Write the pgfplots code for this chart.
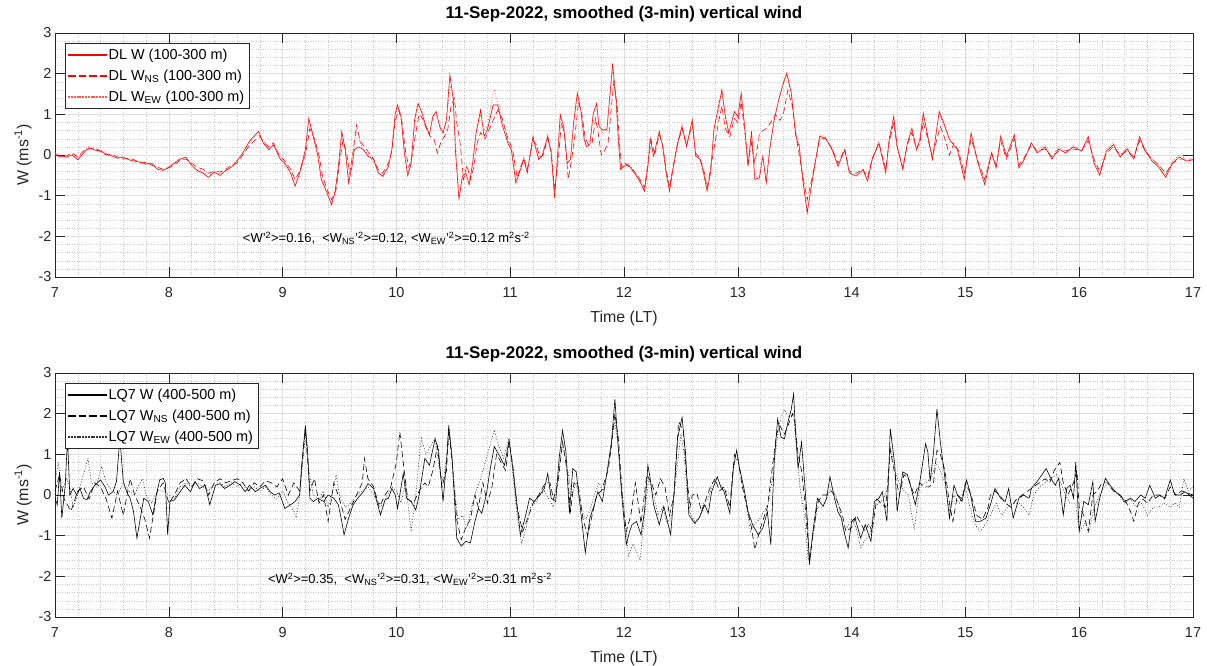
\documentclass[border=0pt]{standalone}
\usepackage{fontspec}
\setmainfont{Liberation Sans}
\usepackage{pgfplots}
\pgfplotsset{compat=1.18}
\definecolor{axgray}{HTML}{262626}
\definecolor{gridmaj}{HTML}{DEDEDE}
\definecolor{gridmin}{HTML}{CACACA}
\definecolor{wred}{rgb}{1,0,0}
\definecolor{wpink}{rgb}{1,0.35,0.35}
\definecolor{wblack}{rgb}{0,0,0}
\definecolor{wdgray}{rgb}{0.2,0.2,0.2}

\tikzset{
  wsol/.style={line width=0.6pt},
  wdash/.style={line width=0.6pt, dash pattern=on 6bp off 3.5bp},
  wdot/.style={line width=0.6pt, dash pattern=on 1bp off 1.8bp},
}
% legend samples drawn as plain shapes (a dash pattern loses its colour inside the legend)
\newcommand{\legsol}[1]{\fill[#1] (0bp,-0.35bp) rectangle (38bp,0.35bp);}
\newcommand{\legdash}[1]{\fill[#1] (0bp,-0.35bp) rectangle (6.5bp,0.35bp) (10.5bp,-0.35bp) rectangle (17bp,0.35bp) (21bp,-0.35bp) rectangle (27.5bp,0.35bp) (31.5bp,-0.35bp) rectangle (38bp,0.35bp);}
\newcommand{\legdot}[1]{\foreach \x in {0,2.8,...,37.5} {\fill[#1] (\x bp,-0.35bp) rectangle ++(1bp,0.7bp);}}

\pgfplotsset{
  windax/.style={
    scale only axis, width=1138bp, height=244bp,
    xmin=7, xmax=17, ymin=-3, ymax=3,
    xtick={7,8,...,17}, ytick={-3,-2,...,3},
    xticklabels={7,8,9,10,11,12,13,14,15,16,17},
    yticklabels={-3,-2,-1,0,1,2,3},
    minor x tick num=4, minor y tick num=4,
    grid=both,
    major grid style={color=gridmaj, line width=0.5pt},
    minor grid style={color=gridmin, dotted, line width=0.45pt},
    tick align=inside, major tick length=10bp, minor tick length=0pt,
    axis line style={color=axgray, line width=0.6pt},
    every tick/.append style={color=axgray, line width=0.6pt},
    tick label style={font=\fontsize{14.5}{16}\selectfont, color=axgray},
    xticklabel style={yshift=-7bp},
    xlabel={Time (LT)}, ylabel={W (ms\textsuperscript{-1})},
    label style={font=\fontsize{16}{18}\selectfont, color=axgray},
    xlabel style={yshift=-6bp},
    title style={font=\bfseries\fontsize{17}{19}\selectfont, color=black, yshift=1bp},
    title={11-Sep-2022, smoothed (3-min) vertical wind},
    legend cell align=left,
    legend style={at={(0.0088,0.959)}, anchor=north west,
      font=\fontsize{14.5}{16}\selectfont, draw=axgray, fill=white, text=black,
      inner xsep=3bp, inner ysep=3.5bp, row sep=5bp},
  },
}

\begin{document}
\begin{tikzpicture}

% ---------------- top panel: DL 100-300 m ----------------
\begin{axis}[windax, at={(0,340bp)}, anchor=south west]
\addlegendimage{legend image code/.code={\legsol{wred}}}
\addlegendentry{DL W (100-300 m)}
\addlegendimage{legend image code/.code={\legdash{wred}}}
\addlegendentry{DL W\textsubscript{NS} (100-300 m)}
\addlegendimage{legend image code/.code={\legdot{wpink}}}
\addlegendentry{DL W\textsubscript{EW} (100-300 m)}
\addplot[wsol, color=wred, forget plot] coordinates {
(7.00,0.02)(7.05,-0.03)(7.10,-0.05)(7.15,0.0)(7.20,-0.12)(7.25,0.05)(7.30,0.18)(7.35,0.12)(7.40,0.1)(7.45,0.02)
(7.50,-0.02)(7.55,-0.08)(7.60,-0.05)(7.65,-0.12)(7.70,-0.15)(7.75,-0.18)(7.80,-0.22)(7.85,-0.2)(7.90,-0.35)(7.95,-0.38)
(8.00,-0.3)(8.05,-0.2)(8.10,-0.1)(8.15,-0.05)(8.20,-0.25)(8.25,-0.38)(8.30,-0.45)(8.35,-0.55)(8.40,-0.42)(8.45,-0.5)
(8.50,-0.38)(8.55,-0.3)(8.60,-0.15)(8.65,0.05)(8.70,0.3)(8.72,0.38)(8.79,0.58)(8.83,0.29)(8.88,0.13)(8.92,0.25)
(8.98,-0.11)(9.02,-0.2)(9.07,-0.44)(9.11,-0.77)(9.15,-0.44)(9.20,0.13)(9.23,0.9)(9.27,0.46)(9.31,-0.03)(9.34,-0.6)
(9.39,-0.93)(9.43,-1.22)(9.46,-0.93)(9.49,-0.28)(9.52,0.58)(9.55,0.13)(9.58,-0.69)(9.61,-0.28)(9.63,0.13)(9.67,0.2)
(9.71,0.13)(9.75,-0.03)(9.80,-0.11)(9.84,-0.44)(9.88,-0.52)(9.93,-0.28)(9.96,0.13)(9.99,1.03)(10.01,1.23)(10.04,0.95)
(10.07,0.05)(10.10,-0.51)(10.13,-0.2)(10.16,0.87)(10.19,1.27)(10.22,1.07)(10.26,0.7)(10.29,0.5)(10.32,0.95)(10.35,1.07)
(10.38,0.7)(10.41,0.54)(10.44,0.87)(10.47,1.97)(10.50,1.36)(10.52,0.05)(10.55,-1.09)(10.58,-0.52)(10.61,-0.44)(10.64,-0.73)
(10.67,-0.2)(10.70,0.54)(10.74,1.11)(10.77,0.46)(10.80,0.62)(10.85,1.23)(10.89,1.23)(10.93,0.74)(10.98,0.29)(11.01,0.13)
(11.05,-0.69)(11.09,-0.36)(11.12,-0.11)(11.15,-0.44)(11.20,0.46)(11.22,0.21)(11.25,-0.11)(11.28,-0.03)(11.33,0.46)(11.36,0.05)
(11.39,-1.05)(11.41,-0.28)(11.44,0.99)(11.47,0.7)(11.50,-0.2)(11.53,-0.11)(11.56,0.87)(11.59,1.52)(11.62,1.11)(11.65,0.38)
(11.67,0.21)(11.70,0.25)(11.73,1.03)(11.76,1.27)(11.78,0.7)(11.81,0.62)(11.85,0.62)(11.88,1.6)(11.90,2.25)(11.93,1.36)
(11.95,0.38)(11.97,-0.36)(12.00,-0.28)(12.04,-0.24)(12.09,-0.44)(12.13,-0.6)(12.18,-0.89)(12.21,-0.28)(12.23,0.42)(12.26,-0.03)
(12.31,0.58)(12.34,0.21)(12.37,-0.44)(12.40,-0.89)(12.43,-0.36)(12.47,0.29)(12.51,0.7)(12.55,0.21)(12.60,0.87)(12.63,-0.03)
(12.67,-0.11)(12.70,-0.44)(12.73,-0.89)(12.76,-0.44)(12.79,0.62)(12.83,1.19)(12.86,1.6)(12.89,0.95)(12.92,0.54)(12.97,1.07)
(13.00,0.95)(13.03,1.52)(13.06,0.7)(13.09,-0.28)(13.12,0.58)(13.15,-0.6)(13.19,-0.56)(13.22,-0.03)(13.25,-0.69)(13.28,0.13)
(13.32,0.87)(13.36,1.36)(13.40,1.76)(13.43,2.0)(13.47,1.52)(13.51,0.46)(13.54,0.21)(13.57,-0.6)(13.61,-1.42)(13.65,-0.69)
(13.72,0.46)(13.77,0.42)(13.83,0.13)(13.88,-0.28)(13.94,0.13)(13.98,-0.44)(14.04,-0.52)(14.10,-0.36)(14.14,-0.64)(14.18,-0.11)
(14.24,0.29)(14.30,-0.44)(14.33,0.38)(14.37,0.95)(14.40,0.21)(14.45,-0.36)(14.49,0.29)(14.53,0.66)(14.57,0.13)(14.60,0.38)
(14.63,1.03)(14.67,0.46)(14.71,-0.11)(14.77,1.07)(14.81,0.79)(14.86,0.38)(14.93,0.13)(14.99,-0.6)(15.05,0.54)(15.11,-0.2)
(15.17,-0.73)(15.23,0.05)(15.27,-0.32)(15.31,0.46)(15.36,-0.03)(15.43,0.5)(15.47,-0.32)(15.52,-0.1)(15.58,0.3)(15.63,0.05)
(15.70,0.2)(15.76,-0.1)(15.82,0.15)(15.88,0.05)(15.95,0.2)(16.02,0.1)(16.08,0.45)(16.13,-0.2)(16.18,-0.5)(16.24,0.1)
(16.30,0.25)(16.36,-0.05)(16.42,0.15)(16.48,-0.1)(16.53,0.45)(16.58,0.1)(16.64,-0.15)(16.70,-0.3)(16.76,-0.55)(16.82,-0.2)
(16.88,-0.05)(16.94,-0.15)(17.00,-0.12)
};
\addplot[wdash, color=wred, forget plot] coordinates {
(7.00,0.0)(7.05,-0.05)(7.10,-0.02)(7.15,0.05)(7.20,-0.05)(7.25,0.1)(7.30,0.15)(7.35,0.18)(7.40,0.08)(7.45,0.0)
(7.50,0.02)(7.55,-0.05)(7.60,-0.1)(7.65,-0.08)(7.70,-0.12)(7.75,-0.2)(7.80,-0.18)(7.85,-0.25)(7.90,-0.3)(7.95,-0.35)
(8.00,-0.32)(8.05,-0.25)(8.10,-0.12)(8.15,-0.1)(8.20,-0.2)(8.25,-0.3)(8.30,-0.35)(8.35,-0.45)(8.40,-0.4)(8.45,-0.42)
(8.50,-0.35)(8.55,-0.25)(8.60,-0.2)(8.65,0.0)(8.70,0.2)(8.75,0.35)(8.80,0.45)(8.84,0.3)(8.88,0.2)(8.92,0.3)
(8.97,0.0)(9.02,-0.15)(9.07,-0.35)(9.11,-0.6)(9.15,-0.4)(9.20,0.0)(9.24,0.65)(9.28,0.4)(9.32,0.0)(9.35,-0.5)
(9.39,-0.85)(9.43,-1.1)(9.47,-0.85)(9.50,-0.2)(9.53,0.35)(9.56,0.1)(9.59,-0.45)(9.62,0.1)(9.65,0.74)(9.68,0.35)
(9.72,0.2)(9.76,0.05)(9.80,-0.1)(9.84,-0.35)(9.88,-0.45)(9.93,-0.2)(9.96,0.1)(9.99,0.85)(10.02,1.1)(10.05,0.8)
(10.08,0.1)(10.11,-0.3)(10.14,0.0)(10.17,0.55)(10.20,1.0)(10.23,0.9)(10.27,0.6)(10.30,0.45)(10.33,0.4)(10.36,0.05)
(10.39,0.3)(10.42,0.45)(10.45,0.6)(10.48,1.2)(10.51,1.4)(10.53,0.8)(10.56,0.3)(10.59,-0.6)(10.62,-0.25)(10.65,-0.6)
(10.68,-0.3)(10.71,0.3)(10.74,0.55)(10.78,0.4)(10.81,0.6)(10.85,0.85)(10.89,1.1)(10.93,0.9)(10.98,0.4)(11.02,0.15)
(11.06,-0.55)(11.09,-0.3)(11.12,-0.1)(11.15,-0.35)(11.20,0.35)(11.23,0.25)(11.26,-0.05)(11.29,0.0)(11.33,0.4)(11.36,0.1)
(11.39,-0.85)(11.42,-0.2)(11.45,0.8)(11.48,0.5)(11.51,-0.6)(11.54,-0.1)(11.57,0.5)(11.60,1.3)(11.63,1.0)(11.66,0.4)
(11.69,0.25)(11.72,0.3)(11.75,0.9)(11.77,0.6)(11.80,0.0)(11.83,0.1)(11.86,0.3)(11.88,0.9)(11.91,1.8)(11.94,1.2)
(11.96,0.3)(11.98,-0.3)(12.01,-0.2)(12.05,-0.3)(12.09,-0.4)(12.13,-0.55)(12.18,-0.8)(12.21,-0.2)(12.24,0.35)(12.27,0.0)
(12.31,0.5)(12.34,0.25)(12.37,-0.35)(12.40,-0.8)(12.43,-0.3)(12.47,0.25)(12.51,0.65)(12.55,0.25)(12.60,0.75)(12.63,0.05)
(12.67,-0.1)(12.70,-0.35)(12.73,-0.8)(12.76,-0.35)(12.80,0.3)(12.83,0.8)(12.86,1.2)(12.89,0.65)(12.93,0.45)(12.97,0.9)
(13.00,0.8)(13.03,1.3)(13.06,0.6)(13.09,-0.2)(13.12,0.3)(13.15,-0.2)(13.19,0.5)(13.22,0.6)(13.25,0.65)(13.29,0.8)
(13.33,1.0)(13.37,0.85)(13.40,1.0)(13.44,1.6)(13.48,1.2)(13.51,0.5)(13.54,0.0)(13.57,-0.5)(13.61,-1.1)(13.65,-0.6)
(13.72,0.4)(13.77,0.4)(13.83,0.15)(13.88,-0.2)(13.94,0.15)(13.98,-0.4)(14.04,-0.45)(14.10,-0.35)(14.14,-0.55)(14.18,-0.1)
(14.24,0.3)(14.30,-0.35)(14.33,0.3)(14.37,0.8)(14.40,0.2)(14.45,-0.3)(14.49,0.25)(14.53,0.55)(14.57,0.15)(14.60,0.3)
(14.63,0.8)(14.67,0.4)(14.71,-0.05)(14.75,0.4)(14.78,0.7)(14.82,0.4)(14.86,0.0)(14.90,0.3)(14.94,0.1)(14.99,-0.45)
(15.05,0.4)(15.11,-0.15)(15.17,-0.6)(15.23,0.05)(15.27,-0.25)(15.31,0.35)(15.36,-0.1)(15.43,0.4)(15.47,-0.25)(15.52,-0.05)
(15.58,0.25)(15.63,0.1)(15.70,0.15)(15.76,-0.05)(15.82,0.1)(15.88,0.1)(15.95,0.15)(16.02,0.1)(16.08,0.35)(16.13,-0.1)
(16.18,-0.4)(16.24,0.05)(16.30,0.2)(16.36,0.0)(16.42,0.1)(16.48,-0.05)(16.53,0.35)(16.58,0.1)(16.64,-0.1)(16.70,-0.25)
(16.76,-0.45)(16.82,-0.2)(16.88,-0.1)(16.94,-0.1)(17.00,-0.1)
};
\addplot[wdot, color=wpink, forget plot] coordinates {
(7.00,0.05)(7.05,0.0)(7.10,-0.08)(7.15,0.02)(7.20,-0.08)(7.25,0.08)(7.30,0.22)(7.35,0.15)(7.40,0.12)(7.45,0.05)
(7.50,0.0)(7.55,-0.05)(7.60,-0.08)(7.65,-0.1)(7.70,-0.18)(7.75,-0.15)(7.80,-0.25)(7.85,-0.22)(7.90,-0.32)(7.95,-0.4)
(8.00,-0.28)(8.05,-0.18)(8.10,-0.08)(8.15,-0.08)(8.20,-0.28)(8.25,-0.35)(8.30,-0.42)(8.35,-0.5)(8.40,-0.45)(8.45,-0.45)
(8.50,-0.4)(8.55,-0.28)(8.60,-0.12)(8.65,0.02)(8.70,0.25)(8.75,0.45)(8.79,0.5)(8.83,0.35)(8.88,0.15)(8.92,0.3)
(8.98,-0.05)(9.02,-0.25)(9.07,-0.4)(9.11,-0.7)(9.15,-0.5)(9.20,0.05)(9.23,0.8)(9.27,0.5)(9.31,0.0)(9.34,-0.5)
(9.39,-0.95)(9.43,-1.15)(9.46,-1.0)(9.49,-0.35)(9.52,0.45)(9.55,0.2)(9.58,-0.55)(9.61,-0.1)(9.65,0.62)(9.68,0.3)
(9.72,0.1)(9.76,0.0)(9.80,-0.2)(9.84,-0.4)(9.88,-0.55)(9.93,-0.3)(9.96,0.15)(9.99,0.95)(10.01,1.15)(10.04,1.0)
(10.07,0.15)(10.10,-0.45)(10.13,-0.1)(10.16,0.75)(10.19,1.2)(10.22,1.1)(10.26,0.75)(10.29,0.55)(10.32,0.9)(10.35,1.0)
(10.38,0.75)(10.41,0.6)(10.44,0.8)(10.47,1.7)(10.50,1.5)(10.52,0.3)(10.55,-0.9)(10.58,-0.6)(10.61,-0.5)(10.64,-0.65)
(10.67,-0.15)(10.70,0.5)(10.74,1.0)(10.77,0.6)(10.80,0.7)(10.84,1.4)(10.86,1.6)(10.89,1.3)(10.93,0.85)(10.98,0.35)
(11.01,0.2)(11.05,-0.6)(11.09,-0.3)(11.12,-0.05)(11.15,-0.4)(11.20,0.4)(11.22,0.25)(11.25,-0.05)(11.28,0.0)(11.33,0.5)
(11.36,0.1)(11.39,-0.95)(11.41,-0.2)(11.44,0.9)(11.47,0.75)(11.50,-0.1)(11.53,-0.05)(11.56,0.8)(11.59,1.45)(11.62,1.15)
(11.65,0.45)(11.67,0.25)(11.70,0.3)(11.73,0.95)(11.76,1.2)(11.78,0.75)(11.81,0.55)(11.85,0.7)(11.88,1.5)(11.90,2.1)
(11.93,1.45)(11.95,0.5)(11.97,-0.3)(12.00,-0.25)(12.04,-0.2)(12.09,-0.4)(12.13,-0.55)(12.18,-0.85)(12.21,-0.3)(12.23,0.4)
(12.26,0.0)(12.31,0.55)(12.34,0.25)(12.37,-0.4)(12.40,-0.85)(12.43,-0.3)(12.47,0.3)(12.51,0.75)(12.55,0.25)(12.60,0.8)
(12.63,0.0)(12.67,-0.15)(12.70,-0.5)(12.73,-0.85)(12.76,-0.5)(12.79,0.55)(12.83,1.1)(12.86,1.5)(12.89,1.0)(12.92,0.6)
(12.97,1.0)(13.00,0.9)(13.03,1.45)(13.06,0.75)(13.09,-0.2)(13.12,0.5)(13.15,-0.55)(13.19,-0.5)(13.22,0.0)(13.25,-0.6)
(13.28,0.2)(13.32,0.9)(13.36,1.4)(13.40,1.8)(13.43,2.05)(13.47,1.6)(13.51,0.55)(13.54,0.3)(13.57,-0.5)(13.61,-1.35)
(13.65,-0.75)(13.72,0.5)(13.77,0.45)(13.83,0.1)(13.88,-0.25)(13.94,0.1)(13.98,-0.4)(14.04,-0.5)(14.10,-0.4)(14.14,-0.6)
(14.18,-0.15)(14.24,0.35)(14.30,-0.4)(14.33,0.35)(14.37,0.9)(14.40,0.25)(14.45,-0.3)(14.49,0.3)(14.53,0.6)(14.57,0.15)
(14.60,0.4)(14.63,0.95)(14.67,0.5)(14.71,-0.05)(14.77,1.0)(14.81,0.75)(14.86,0.4)(14.93,0.15)(14.99,-0.55)(15.05,0.5)
(15.11,-0.15)(15.17,-0.65)(15.23,0.1)(15.27,-0.3)(15.31,0.45)(15.36,0.0)(15.43,0.45)(15.47,-0.3)(15.52,-0.05)(15.58,0.3)
(15.63,0.1)(15.70,0.25)(15.76,-0.05)(15.82,0.2)(15.88,0.05)(15.95,0.25)(16.02,0.1)(16.08,0.4)(16.13,-0.15)(16.18,-0.45)
(16.24,0.15)(16.30,0.3)(16.36,0.0)(16.42,0.2)(16.48,-0.05)(16.53,0.4)(16.58,0.15)(16.64,-0.1)(16.70,-0.25)(16.76,-0.5)
(16.82,-0.15)(16.88,0.0)(16.94,-0.1)(17.00,-0.1)
};
\node[anchor=west, font=\fontsize{13}{15}\selectfont, color=black, inner sep=0pt] at (axis cs:8.65,-2.05)
  {<W'\textsuperscript{2}>=0.16,\ \ <W\textsubscript{NS}'\textsuperscript{2}>=0.12, <W\textsubscript{EW}'\textsuperscript{2}>=0.12 m\textsuperscript{2}s\textsuperscript{-2}};
\end{axis}

% ---------------- bottom panel: LQ7 400-500 m ----------------
\begin{axis}[windax, at={(0,0)}, anchor=south west]
\addlegendimage{legend image code/.code={\legsol{wblack}}}
\addlegendentry{LQ7 W (400-500 m)}
\addlegendimage{legend image code/.code={\legdash{wblack}}}
\addlegendentry{LQ7 W\textsubscript{NS} (400-500 m)}
\addlegendimage{legend image code/.code={\legdot{wdgray}}}
\addlegendentry{LQ7 W\textsubscript{EW} (400-500 m)}
\addplot[wsol, color=wblack, forget plot] coordinates {
(7.00,-0.08)(7.02,-0.24)(7.04,0.57)(7.06,-0.57)(7.09,0.24)(7.11,1.4)(7.13,0)(7.16,0.16)(7.19,0)(7.22,0.16)
(7.25,-0.08)(7.28,-0.12)(7.31,0.08)(7.35,0.24)(7.40,0.37)(7.44,0.2)(7.47,0)(7.51,0.08)(7.54,0.33)(7.57,1.4)
(7.60,0.33)(7.63,0.08)(7.66,-0.08)(7.69,-0.41)(7.72,-1.06)(7.75,-0.57)(7.78,-0.08)(7.82,-0.16)(7.86,-0.49)(7.89,0)
(7.92,0.37)(7.95,0.41)(7.97,0.3)(7.99,-0.98)(8.01,-0.16)(8.05,-0.12)(8.10,0.08)(8.14,0.24)(8.19,0.08)(8.23,0.33)
(8.27,0.16)(8.32,0.24)(8.36,-0.24)(8.41,0.24)(8.45,0.28)(8.49,0.16)(8.54,0.24)(8.58,0.33)(8.63,0.24)(8.67,0.08)
(8.71,0.24)(8.76,0.08)(8.80,0.16)(8.85,0.24)(8.89,0.08)(8.93,0)(8.97,0.05)(9.02,-0.33)(9.07,-0.24)(9.11,-0.16)
(9.15,0)(9.17,0.81)(9.20,1.71)(9.22,1.06)(9.24,-0.08)(9.27,-0.16)(9.31,-0.08)(9.36,-0.16)(9.40,0)(9.45,-0.08)
(9.49,-0.24)(9.52,-0.65)(9.54,-0.98)(9.58,-0.57)(9.62,-0.24)(9.66,-0.08)(9.71,0.08)(9.75,0.28)(9.80,0.16)(9.82,-0.08)
(9.86,-0.49)(9.90,-0.12)(9.93,-0.08)(9.96,0.16)(9.99,0)(10.01,-0.33)(10.03,0)(10.06,0.53)(10.09,-0.08)(10.13,-0.16)
(10.17,-0.37)(10.20,0)(10.25,0.9)(10.29,0.73)(10.34,1.38)(10.37,1.1)(10.41,-0.16)(10.44,0.81)(10.46,1.71)(10.49,0.9)
(10.53,-1.06)(10.57,-1.26)(10.61,-1.14)(10.65,-1.18)(10.69,-0.65)(10.72,-0.33)(10.75,-0.45)(10.79,0)(10.82,0.57)(10.86,1.19)
(10.91,0.94)(10.95,0.73)(10.99,1.34)(11.02,0.73)(11.05,0)(11.09,-0.98)(11.13,-0.57)(11.17,-0.08)(11.21,-0.16)(11.26,0)
(11.30,0.16)(11.33,0.53)(11.36,-0.08)(11.40,-0.16)(11.43,0.9)(11.46,1.59)(11.49,1.06)(11.52,-0.45)(11.55,0.65)(11.58,0.57)
(11.62,-0.41)(11.66,-1.42)(11.70,-0.57)(11.74,-0.24)(11.77,0.08)(11.81,-0.16)(11.86,0.73)(11.89,1.3)(11.92,2.36)(11.94,1.54)
(11.98,0)(12.02,-1.22)(12.05,-0.89)(12.07,-0.73)(12.11,-0.65)(12.15,-0.98)(12.18,-0.41)(12.21,0.73)(12.23,0.41)(12.26,-0.24)
(12.31,-0.73)(12.35,-0.28)(12.41,-0.98)(12.44,0.08)(12.47,1.38)(12.51,1.91)(12.54,1.06)(12.57,-0.49)(12.62,-0.69)(12.66,-0.57)
(12.71,-0.24)(12.74,-0.45)(12.77,0.08)(12.82,0.45)(12.85,0.2)(12.88,0.08)(12.93,-0.45)(12.96,0.65)(12.99,1.1)(13.01,0.73)
(13.06,0.08)(13.09,-0.41)(13.13,-0.73)(13.18,-0.98)(13.22,-0.81)(13.26,-0.41)(13.29,-1.22)(13.32,0.81)(13.35,1.87)(13.38,1.42)
(13.41,1.38)(13.44,1.79)(13.47,2.11)(13.49,2.48)(13.51,1.46)(13.53,0.65)(13.56,1.3)(13.58,0.57)(13.61,-0.57)(13.63,-1.71)
(13.66,-0.89)(13.70,-0.08)(13.75,-0.28)(13.78,-0.08)(13.81,0.45)(13.85,-0.08)(13.88,-0.41)(13.91,-0.57)(13.94,-0.98)(13.97,-1.3)
(14.00,-0.65)(14.03,-0.57)(14.08,-1.06)(14.12,-0.73)(14.17,-1.14)(14.20,-0.16)(14.24,-0.08)(14.27,0.08)(14.31,-0.65)(14.34,1.63)
(14.38,0.73)(14.40,-0.41)(14.45,0.57)(14.49,0.5)(14.52,0.2)(14.56,-0.24)(14.60,0.33)(14.65,1.26)(14.67,1.06)(14.69,0.33)
(14.72,1.06)(14.75,2.11)(14.78,1.3)(14.81,0.65)(14.86,-0.57)(14.90,0.24)(14.93,0)(14.97,-0.16)(15.01,0.37)(15.04,0.08)
(15.09,-0.65)(15.13,-0.65)(15.18,-0.57)(15.22,-0.24)(15.26,0.16)(15.31,-0.08)(15.35,-0.16)(15.38,0.16)(15.42,-0.57)(15.47,-0.08)
(15.51,0)(15.56,-0.08)(15.58,0.16)(15.63,0.33)(15.67,0.49)(15.71,0.65)(15.75,0.41)(15.79,0.24)(15.82,0.41)(15.86,-0.49)
(15.89,0.16)(15.92,0.24)(15.95,-0.08)(15.97,0.81)(16.00,-0.89)(16.04,-0.16)(16.08,-0.24)(16.12,0.33)(16.14,-0.65)(16.18,-0.08)
(16.23,0.41)(16.27,0.24)(16.32,0.08)(16.36,0)(16.40,-0.16)(16.45,-0.08)(16.49,-0.16)(16.54,0)(16.58,-0.08)(16.62,0.24)
(16.67,-0.08)(16.71,0)(16.75,-0.08)(16.80,0.37)(16.84,0)(16.89,0)(16.93,0.08)(16.97,0)(17.00,-0.08)
};
\addplot[wdash, color=wblack, forget plot] coordinates {
(7.00,0.1)(7.04,0.5)(7.08,-0.1)(7.14,-0.4)(7.20,0.1)(7.25,0.2)(7.30,-0.1)(7.35,0.3)(7.40,0.2)(7.45,-0.1)
(7.50,-0.57)(7.55,0.1)(7.60,-0.5)(7.66,0.4)(7.70,0.0)(7.75,-0.3)(7.79,-0.6)(7.83,-1.06)(7.87,-0.4)(7.90,0.1)
(7.95,0.3)(8.00,-0.2)(8.05,0.0)(8.10,0.3)(8.15,0.4)(8.20,0.2)(8.25,0.4)(8.30,0.35)(8.35,0.0)(8.40,0.3)
(8.45,0.4)(8.50,0.3)(8.55,0.35)(8.60,0.4)(8.65,0.3)(8.70,0.1)(8.75,0.3)(8.80,0.2)(8.85,0.35)(8.90,0.3)
(8.95,0.2)(9.00,0.4)(9.05,0.0)(9.10,0.3)(9.15,0.1)(9.20,1.6)(9.24,0.1)(9.28,0.4)(9.32,-0.2)(9.36,0.0)
(9.40,-0.65)(9.45,0.3)(9.50,-0.1)(9.55,-0.6)(9.60,-0.3)(9.65,0.0)(9.70,0.3)(9.72,0.9)(9.75,0.4)(9.80,0.2)
(9.85,-0.3)(9.90,0.0)(9.95,0.2)(10.00,0.8)(10.03,1.55)(10.06,0.8)(10.10,-0.1)(10.15,-0.2)(10.20,0.1)(10.25,0.3)
(10.28,0.2)(10.32,0.6)(10.36,1.2)(10.40,0.2)(10.44,0.6)(10.46,1.6)(10.49,0.8)(10.53,-0.6)(10.57,-1.1)(10.61,-0.8)
(10.65,-0.6)(10.69,0.0)(10.72,-0.3)(10.76,0.3)(10.80,-0.2)(10.84,0.2)(10.88,1.0)(10.92,0.8)(10.96,0.6)(10.99,1.3)
(11.02,0.8)(11.06,-0.3)(11.11,-0.9)(11.15,-0.6)(11.20,-0.2)(11.25,0.0)(11.31,0.3)(11.35,0.3)(11.38,-0.1)(11.42,0.3)
(11.46,1.3)(11.50,0.6)(11.53,-0.4)(11.56,0.3)(11.60,0.2)(11.64,-0.6)(11.68,-1.0)(11.72,-0.5)(11.76,0.0)(11.80,0.1)
(11.86,0.6)(11.89,1.2)(11.92,2.0)(11.95,1.4)(11.99,-0.2)(12.02,-0.9)(12.06,-0.5)(12.10,0.3)(12.15,-0.7)(12.20,0.5)
(12.24,0.3)(12.28,0.0)(12.32,0.4)(12.36,0.2)(12.40,-0.5)(12.44,0.0)(12.48,1.8)(12.52,1.6)(12.55,0.5)(12.58,-0.3)
(12.60,0.0)(12.64,0.05)(12.68,-0.4)(12.72,-0.1)(12.76,0.2)(12.80,0.4)(12.84,0.1)(12.88,0.2)(12.93,-0.3)(12.97,1.0)
(13.00,0.9)(13.04,0.2)(13.08,-0.3)(13.12,-0.8)(13.15,-1.34)(13.20,-0.8)(13.26,-0.3)(13.30,0.6)(13.34,1.5)(13.37,1.7)
(13.41,1.5)(13.44,1.7)(13.48,2.0)(13.50,1.8)(13.53,1.0)(13.56,0.6)(13.59,-0.2)(13.63,-1.6)(13.67,-0.8)(13.70,-0.2)
(13.74,0.0)(13.78,0.0)(13.82,0.1)(13.85,0.0)(13.88,-0.2)(13.92,-0.5)(13.95,-0.9)(14.00,-0.8)(14.04,-0.5)(14.08,-0.7)
(14.12,-0.9)(14.15,-0.7)(14.18,-0.9)(14.22,-0.1)(14.26,-0.2)(14.30,-0.3)(14.34,1.1)(14.38,0.5)(14.42,0.0)(14.46,0.5)
(14.50,0.4)(14.55,0.0)(14.60,0.3)(14.64,0.2)(14.68,0.2)(14.72,0.3)(14.75,1.1)(14.78,1.0)(14.82,0.6)(14.86,-0.2)
(14.89,-0.65)(14.93,0.0)(14.97,-0.1)(15.00,0.3)(15.05,0.0)(15.10,-0.5)(15.15,-0.6)(15.20,-0.3)(15.22,0.0)(15.26,0.1)
(15.30,0.0)(15.35,-0.2)(15.40,-0.3)(15.45,-0.1)(15.50,0.0)(15.55,0.1)(15.60,0.2)(15.65,0.3)(15.70,0.4)(15.74,0.3)
(15.78,0.6)(15.83,0.8)(15.86,0.3)(15.90,0.0)(15.95,0.3)(15.98,0.6)(16.00,-0.3)(16.04,-0.5)(16.08,-0.9)(16.12,0.0)
(16.16,0.1)(16.20,0.3)(16.25,0.3)(16.30,0.1)(16.35,0.0)(16.40,-0.1)(16.45,-0.4)(16.48,-0.65)(16.52,-0.2)(16.56,-0.1)
(16.60,-0.2)(16.65,0.0)(16.70,0.0)(16.75,-0.1)(16.80,0.2)(16.85,0.0)(16.90,0.1)(16.95,0.05)(17.00,0.0)
};
\addplot[wdot, color=wdgray, forget plot] coordinates {
(7.00,0.3)(7.03,0.8)(7.06,0.1)(7.10,0.4)(7.13,0.2)(7.16,-0.3)(7.20,0.0)(7.25,0.5)(7.29,0.9)(7.32,0.3)
(7.36,0.2)(7.41,0.7)(7.45,0.3)(7.50,0.1)(7.55,0.0)(7.60,0.3)(7.65,0.1)(7.70,0.0)(7.73,0.2)(7.77,0.4)
(7.80,0.0)(7.85,-0.2)(7.90,0.1)(7.95,0.1)(8.00,0.0)(8.05,-0.1)(8.10,0.2)(8.15,0.3)(8.20,0.2)(8.25,0.3)
(8.30,0.2)(8.35,0.1)(8.40,0.3)(8.45,0.3)(8.50,0.2)(8.55,0.3)(8.60,0.2)(8.65,0.3)(8.70,0.1)(8.75,0.2)
(8.80,0.1)(8.85,0.2)(8.90,0.0)(8.95,-0.1)(9.00,0.1)(9.05,-0.2)(9.10,-0.4)(9.12,-0.57)(9.15,0.0)(9.20,1.5)
(9.23,0.6)(9.27,0.0)(9.32,-0.1)(9.36,0.1)(9.40,-0.3)(9.45,0.2)(9.47,0.5)(9.50,0.0)(9.55,-0.3)(9.60,-0.2)
(9.65,0.0)(9.70,0.1)(9.75,0.2)(9.80,0.0)(9.85,-0.2)(9.88,-0.3)(9.92,0.0)(9.96,0.2)(10.00,0.1)(10.04,-0.2)
(10.08,0.3)(10.13,-0.9)(10.17,0.0)(10.20,0.9)(10.22,1.4)(10.26,1.0)(10.30,1.2)(10.34,1.4)(10.38,0.6)(10.41,0.3)
(10.44,0.9)(10.47,1.5)(10.50,0.5)(10.54,-0.6)(10.58,-0.5)(10.62,-0.8)(10.66,-0.3)(10.70,0.1)(10.74,0.4)(10.78,0.8)
(10.82,1.2)(10.86,1.6)(10.90,1.2)(10.94,0.9)(10.99,1.4)(11.02,0.6)(11.06,-0.5)(11.10,-1.2)(11.14,-0.8)(11.18,-0.3)
(11.22,-0.2)(11.26,0.0)(11.30,0.1)(11.34,-0.1)(11.38,-0.3)(11.42,0.5)(11.46,1.3)(11.50,0.7)(11.54,0.0)(11.58,0.3)
(11.62,-0.3)(11.66,-0.6)(11.70,-0.4)(11.74,0.0)(11.78,0.3)(11.82,0.1)(11.86,0.7)(11.90,1.5)(11.92,1.8)(11.95,1.2)
(11.98,0.2)(12.01,-0.6)(12.04,-1.5)(12.08,-1.2)(12.14,-1.6)(12.17,-0.8)(12.20,0.0)(12.22,0.4)(12.26,0.0)(12.30,-0.5)
(12.34,-0.3)(12.38,-0.7)(12.42,-0.5)(12.46,0.5)(12.50,1.5)(12.53,1.0)(12.56,-0.2)(12.59,-0.5)(12.63,-0.7)(12.67,-0.5)
(12.70,-0.2)(12.74,-0.1)(12.78,0.3)(12.82,0.4)(12.86,0.2)(12.90,0.1)(12.94,0.0)(12.97,0.8)(13.00,0.9)(13.03,0.5)
(13.07,-0.1)(13.11,-0.9)(13.15,-0.7)(13.19,-0.6)(13.23,-0.4)(13.27,-0.2)(13.31,0.5)(13.35,1.5)(13.38,1.9)(13.41,2.1)
(13.45,1.9)(13.49,2.0)(13.52,1.0)(13.55,0.1)(13.58,-0.4)(13.62,-1.6)(13.66,-1.0)(13.70,-0.3)(13.74,-0.3)(13.78,-0.1)
(13.82,0.2)(13.86,0.0)(13.90,-0.4)(13.93,-0.9)(13.96,-0.8)(14.00,-0.6)(14.04,-0.8)(14.08,-1.3)(14.12,-1.1)(14.16,-1.0)
(14.20,-0.3)(14.24,-0.2)(14.28,-0.1)(14.32,0.2)(14.34,1.2)(14.38,0.6)(14.42,0.3)(14.46,0.1)(14.50,0.0)(14.55,-0.85)
(14.60,0.2)(14.65,0.3)(14.70,0.4)(14.74,0.8)(14.78,0.6)(14.82,0.3)(14.86,-0.4)(14.90,0.0)(14.95,-0.2)(15.00,0.2)
(15.04,-0.3)(15.08,-0.7)(15.13,-0.9)(15.18,-0.7)(15.22,-0.5)(15.27,-0.2)(15.32,-0.5)(15.37,-0.3)(15.42,-0.2)(15.47,-0.2)
(15.51,-0.3)(15.56,-0.5)(15.60,0.0)(15.65,0.2)(15.70,0.3)(15.75,0.4)(15.80,0.5)(15.84,0.3)(15.88,0.0)(15.92,-0.2)
(15.97,-0.2)(16.00,-0.9)(16.05,-0.7)(16.09,-0.85)(16.13,-0.3)(16.18,0.0)(16.22,0.2)(16.26,0.3)(16.30,0.1)(16.35,0.0)
(16.40,-0.2)(16.45,-0.1)(16.50,-0.3)(16.55,-0.2)(16.60,-0.5)(16.65,-0.3)(16.70,-0.3)(16.75,-0.2)(16.80,-0.3)(16.84,-0.2)
(16.88,-0.3)(16.92,0.4)(16.96,0.1)(17.00,0.2)
};
\node[anchor=west, font=\fontsize{13}{15}\selectfont, color=black, inner sep=0pt] at (axis cs:8.87,-2.07)
  {<W\textsuperscript{2}>=0.35,\ \ <W\textsubscript{NS}'\textsuperscript{2}>=0.31, <W\textsubscript{EW}'\textsuperscript{2}>=0.31 m\textsuperscript{2}s\textsuperscript{-2}};
\end{axis}

\pgfresetboundingbox
\path[use as bounding box] (-55bp,-49bp) rectangle (1152bp,617bp);
\end{tikzpicture}
\end{document}
